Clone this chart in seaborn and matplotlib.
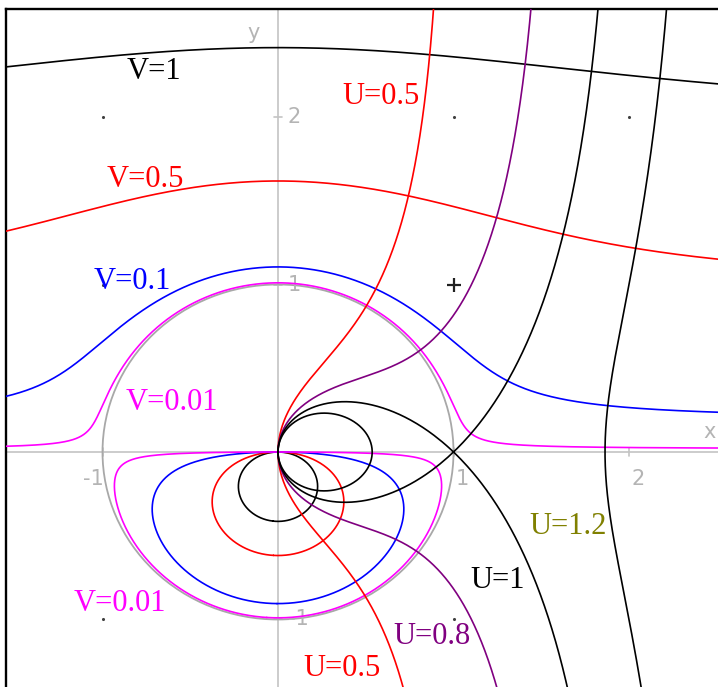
import numpy as np
import matplotlib
matplotlib.use("Agg")
import matplotlib.pyplot as plt
from matplotlib.patches import Circle
import seaborn as sns
import contourpy

# Level curves of w = U + iV = (z + 1/z) / 2
v_levels = [1.0, 0.5, 0.1, 0.01]
v_colors = ["#000000", "#ff0000", "#0000ff", "#ff00ff"]
u_levels = [0.5, 0.8, 1.0, 1.2]
u_colors = ["#ff0000", "#800080", "#000000", "#000000"]

# curve labels (text, colour, data position)
label_texts = ["V=1", "U=0.5", "V=0.5", "V=0.1", "V=0.01",
               "V=0.01", "U=0.8", "U=0.5", "U=1", "U=1.2"]
label_colors = ["#000000", "#ff0000", "#ff0000", "#0000ff", "#ff00ff",
                "#ff00ff", "#800080", "#ff0000", "#000000", "#808000"]
label_x = [-0.707, 0.587, -0.758, -0.832, -0.604,
           -0.900, 0.878, 0.365, 1.254, 1.652]
label_y = [2.269, 2.125, 1.624, 1.015, 0.293,
           -0.902, -1.099, -1.290, -0.770, -0.442]

# axis ticks
x_ticks = [-1, 1, 2]
y_ticks = [-1, 1, 2]
x_tick_labels = ["-1", "1", "2"]
y_tick_labels = ["-1", "1", "2"]

# lattice points marked in the plane
dot_x = [-1, 1, 2, -1, 1, -1]
dot_y = [2, 2, 2, -1, -1, 1]
cross_x = [1]
cross_y = [1]

sns.set_theme(style="white")
plt.rcParams["font.family"] = ["DejaVu Sans"]

W_PX, H_PX = 718, 687
fig = plt.figure(figsize=(W_PX / 100, H_PX / 100), dpi=100)
fig.patch.set_facecolor("white")
left, top = 6 / W_PX, 9 / H_PX
ax = fig.add_axes([left, 0, 1 - left, 1 - top])
ax.set_xlim(-1.5499, 2.5071)
ax.set_ylim(-1.4030, 2.6448)
ax.set_facecolor("white")
ax.set_xticks([])
ax.set_yticks([])
for side in ("right", "bottom"):
    ax.spines[side].set_visible(False)
for side in ("left", "top"):
    ax.spines[side].set_color("black")
    ax.spines[side].set_linewidth(1.7)

axis_gray = "#c4c4c4"
ax.axhline(0, color=axis_gray, lw=1.2, zorder=1)
ax.axvline(0, color=axis_gray, lw=1.2, zorder=1)

# tick marks crossing the axes
tx, ty = 0.025, 0.025
for t in x_ticks:
    ax.plot([t, t], [-ty, ty], color=axis_gray, lw=1.2, zorder=1)
for t in y_ticks:
    ax.plot([-tx, tx], [t, t], color=axis_gray, lw=1.2, zorder=1)

tick_font = dict(color="#b4b4b4", fontsize=15, family="DejaVu Sans")
for t, s in zip(x_ticks, x_tick_labels):
    ax.text(t - (0.05 if t < 0 else -0.05), -0.16, s, ha="center",
            va="center", **tick_font)
for t, s in zip(y_ticks, y_tick_labels):
    ax.text(0.055, t, s, ha="left", va="center", **tick_font)
ax.text(2.46, 0.12, "x", ha="center", va="center", **tick_font)
ax.text(-0.14, 2.50, "y", ha="center", va="center", **tick_font)

# unit circle
ax.add_patch(Circle((0, 0), 1, fill=False, ec="#a8a8a8", lw=1.3, zorder=2))

# field on a fine grid
gx = np.linspace(-1.6, 2.6, 1501)
gy = np.linspace(-1.45, 2.7, 1501)
X, Y = np.meshgrid(gx, gy)
Z = X + 1j * Y
with np.errstate(divide="ignore", invalid="ignore"):
    Wf = (Z + 1 / Z) / 2
U, V = Wf.real, Wf.imag

def draw_levels(field, levels, colors):
    gen = contourpy.contour_generator(gx, gy, field)
    for lev, col in zip(levels, colors):
        for seg in gen.lines(lev):
            if len(seg) < 2:
                continue
            sns.lineplot(x=seg[:, 0], y=seg[:, 1], sort=False,
                         estimator=None, color=col, linewidth=1.2,
                         ax=ax, legend=False, zorder=3)

draw_levels(V, v_levels, v_colors)
draw_levels(U, u_levels, u_colors)

sns.scatterplot(x=dot_x, y=dot_y, s=5, color="#404040", linewidth=0,
                ax=ax, zorder=4, legend=False)
sns.scatterplot(x=cross_x, y=cross_y, s=90, marker="+", color="#202020",
                linewidth=1.6, ax=ax, zorder=4, legend=False)

for s, c, lx, ly in zip(label_texts, label_colors, label_x, label_y):
    ax.text(lx, ly, s, color=c, fontsize=22, family="Liberation Serif",
            ha="center", va="center", zorder=5)

ax.set_xlabel("")
ax.set_ylabel("")
fig.savefig("out.png", dpi=100, facecolor="white")
